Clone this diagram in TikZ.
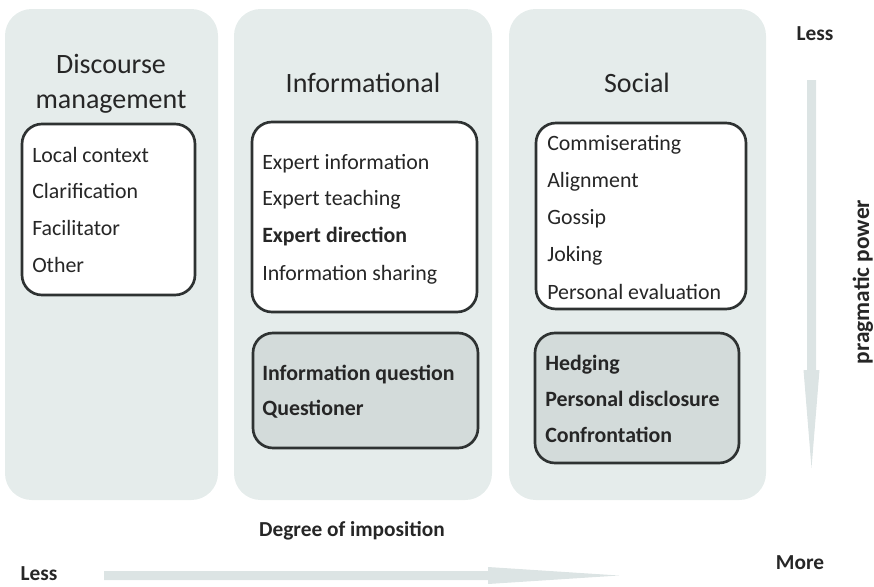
\documentclass[tikz,border=0pt]{standalone}
\usepackage{fontspec}
\setmainfont{Carlito}
\usepackage{xcolor}
\usetikzlibrary{positioning}

\definecolor{panelgray}{HTML}{E5ECEB}
\definecolor{boxgray}{HTML}{D3DBDA}
\definecolor{edgegray}{HTML}{2E3232}
\definecolor{arrowgray}{HTML}{DCE4E4}
\definecolor{textgray}{HTML}{262626}

\tikzset{
  panel/.style={fill=panelgray, rounded corners=20pt},
  whitebox/.style={draw=edgegray, fill=white, line width=2pt, rounded corners=15pt},
  graybox/.style={draw=edgegray, fill=boxgray, line width=2pt, rounded corners=15pt},
  title/.style={text=textgray, font=\fontsize{21}{26}\selectfont, align=center},
  item/.style={anchor=west, inner sep=0pt, text=textgray, font=\fontsize{16.4}{19}\selectfont, text height=0.7em, text depth=0.2em},
  bolditem/.style={item, font=\fontsize{16.4}{19}\selectfont\bfseries},
  axislabel/.style={text=textgray, font=\fontsize{16}{19}\selectfont\bfseries}
}

\begin{document}
\begin{tikzpicture}[x=0.75pt, y=-0.75pt]
\useasboundingbox (0,0) rectangle (874,586);

% panels
\fill[panel] (5,9) rectangle (218,500);
\fill[panel] (234,9) rectangle (492,500);
\fill[panel] (509,9) rectangle (766,500);

\node (discourse) at (111,84) [title]{Discourse\\management};
\node (informational) at (363,83) [title]{Informational};
\node (social) at (637,83) [title]{Social};

% discourse management
\draw[whitebox] (22,124) rectangle (195,295);
\node (locctx) at (32,159) [item]{Local context};
\node (clarif) at (32,195) [item]{Clarification};
\node (facil) at (32,232) [item]{Facilitator};
\node (other) at (32,269) [item]{Other};

% informational
\draw[whitebox] (252,122) rectangle (477,312);
\node (expinfo) at (262,166) [item]{Expert information};
\node (expteach) at (262,202) [item]{Expert teaching};
\node (expdir) at (262,239) [bolditem]{Expert direction};
\node (infoshare) at (262,277) [item]{Information sharing};

\draw[graybox] (253,333) rectangle (478,448);
\node (infoquest) at (262,377) [bolditem]{Information question};
\node (questioner) at (262,412) [bolditem]{Questioner};

% social
\draw[whitebox] (536,123) rectangle (746,309);
\node (commis) at (547,147) [item]{Commiserating};
\node (align) at (547,184) [item]{Alignment};
\node (gossip) at (547,221) [item]{Gossip};
\node (joking) at (547,258) [item]{Joking};
\node (perseval) at (547,296) [item]{Personal evaluation};

\draw[graybox] (535,333) rectangle (739,463);
\node (hedging) at (545,367) [bolditem]{Hedging};
\node (persdisc) at (545,403) [bolditem]{Personal disclosure};
\node (confront) at (545,439) [bolditem]{Confrontation};

% imposition axis
\fill[arrowgray] (104,571) -- (488,571) -- (488,567) -- (619,575.5) -- (488,584) -- (488,580) -- (104,580) -- cycle;
\node (imposition) at (352,531) [axislabel]{Degree of imposition};
\node (lessleft) at (39,574) [axislabel]{Less};
\node (moreright) at (800,563) [axislabel]{More};

% power axis
\fill[arrowgray] (807,80) -- (816,80) -- (816,370) -- (819.5,370) -- (811.5,468) -- (803.5,370) -- (807,370) -- cycle;
\node (lesstop) at (815,34) [axislabel]{Less};
\node (power) at (863,282) [axislabel, font=\fontsize{17.5}{19}\selectfont\bfseries, rotate=90]{pragmatic power};

\end{tikzpicture}
\end{document}
